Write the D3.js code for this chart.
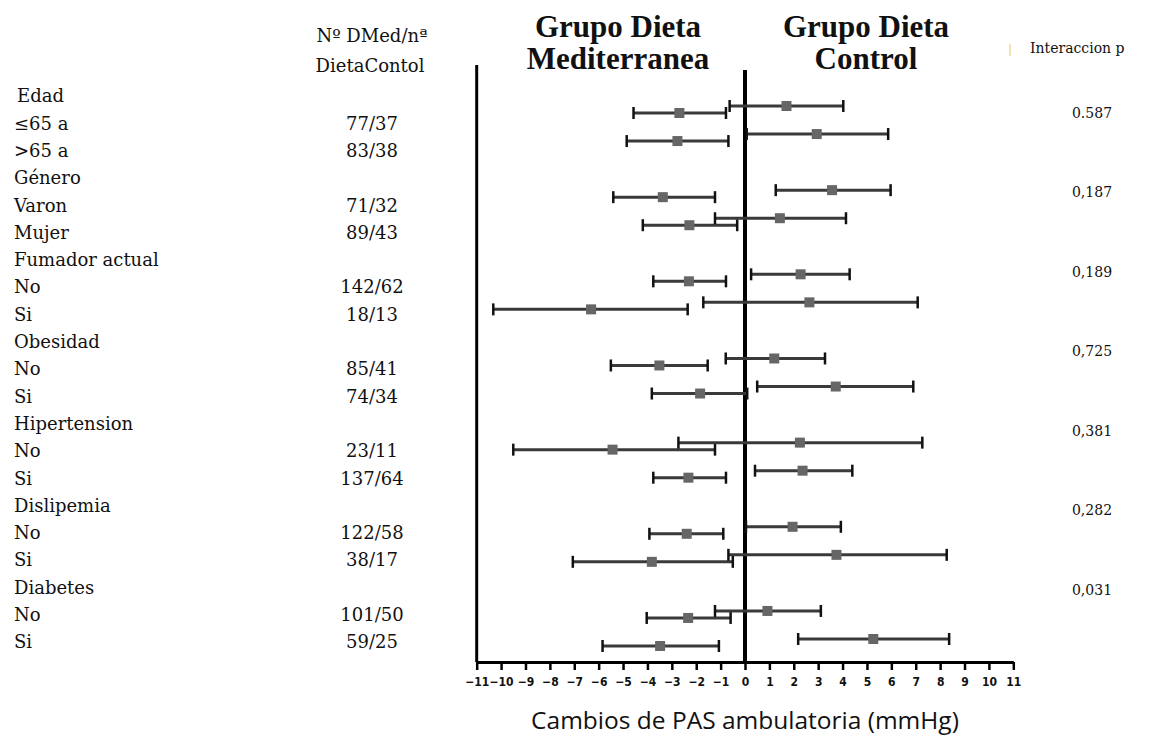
<!DOCTYPE html>
<html>
<head>
<meta charset="utf-8">
<script src="https://cdn.jsdelivr.net/npm/d3@7"></script>
<style>
  body { margin: 0; background: #fff; }
  text { fill: #111; }
  .lbl { font-family: "DejaVu Serif", serif; font-size: 18px; }
  .cnt { font-family: "DejaVu Serif", serif; font-size: 18px; }
  .ttl { font-family: "Liberation Serif", serif; font-weight: bold; font-size: 31px; }
  .pv { font-family: "DejaVu Serif", serif; font-size: 14px; }
  .tick text { font-family: "DejaVu Sans Condensed", "DejaVu Sans", sans-serif; font-size: 12px; font-weight: bold; }
</style>
</head>
<body>
<svg width="1157" height="737"></svg>
<script>
// rows of the table (headers have no counts)
var rowLabels = ["Edad", "\u226465 a", ">65 a", "G\u00e9nero", "Varon", "Mujer",
  "Fumador actual", "No", "Si", "Obesidad", "No", "Si", "Hipertension", "No", "Si",
  "Dislipemia", "No", "Si", "Diabetes", "No", "Si"];
var rowCounts = ["", "77/37", "83/38", "", "71/32", "89/43", "", "142/62", "18/13", "",
  "85/41", "74/34", "", "23/11", "137/64", "", "122/58", "38/17", "", "101/50", "59/25"];

// Grupo Dieta Mediterranea: estimate and 95% CI
var medEst = [-2.69, -2.77, -3.37, -2.28, -2.30, -6.31, -3.51, -1.84, -5.43, -2.32, -2.39, -3.82, -2.33, -3.48];
var medLo  = [-4.57, -4.85, -5.40, -4.19, -3.76, -10.32, -5.50, -3.82, -9.50, -3.76, -3.92, -7.06, -4.03, -5.84];
var medHi  = [-0.78, -0.68, -1.23, -0.32, -0.78, -2.35, -1.53, 0.09, -1.23, -0.78, -0.89, -0.50, -0.59, -1.07];

// Grupo Dieta Control
var ctlEst = [1.70, 2.94, 3.57, 1.43, 2.28, 2.64, 1.20, 3.72, 2.25, 2.36, 1.95, 3.75, 0.92, 5.26];
var ctlLo  = [-0.63, 0.07, 1.26, -1.23, 0.25, -1.71, -0.79, 0.50, -2.73, 0.41, 0.04, -0.68, -1.23, 2.18];
var ctlHi  = [4.03, 5.87, 5.97, 4.14, 4.29, 7.08, 3.28, 6.90, 7.27, 4.40, 3.93, 8.27, 3.11, 8.37];

var pValues = ["0.587", "0,187", "0,189", "0,725", "0,381", "0,282", "0,031"];
var xTicks = d3.range(-11, 12);

var svg = d3.select("svg");

var x = d3.scaleLinear().domain([-11, 11]).range([476.7, 1013.3]);
// bar rows and table rows
var yBar = d3.scaleLinear().domain([1, 20]).range([113, 646]);
var yRow = d3.scaleLinear().domain([0, 20]).range([96, 642]);
var yP = d3.scalePoint().domain(pValues).range([113, 590]);

var axisY = 662;

// table text
svg.append("g").selectAll("text")
    .data(rowLabels)
  .enter().append("text")
    .attr("class", "lbl")
    .attr("x", function(d, i) { return i == 0 ? 17 : 14; })
    .attr("y", function(d, i) { return yRow(i); })
    .attr("dy", "0.35em")
    .text(function(d) { return d; });

svg.append("g").selectAll("text")
    .data(rowCounts)
  .enter().append("text")
    .attr("class", "cnt")
    .attr("x", 372)
    .attr("y", function(d, i) { return yRow(i); })
    .attr("dy", "0.35em")
    .attr("text-anchor", "middle")
    .text(function(d) { return d; });

svg.append("text").attr("class", "cnt").attr("x", 372).attr("y", 42)
    .attr("text-anchor", "middle").text("N\u00ba DMed/n\u00aa");
svg.append("text").attr("class", "cnt").attr("x", 370).attr("y", 72)
    .attr("text-anchor", "middle").text("DietaContol");

// group titles
[["Grupo Dieta", "Mediterranea", 618], ["Grupo Dieta", "Control", 866]].forEach(function(t) {
  svg.append("text").attr("class", "ttl").attr("x", t[2]).attr("y", 37)
      .attr("text-anchor", "middle").text(t[0]);
  svg.append("text").attr("class", "ttl").attr("x", t[2]).attr("y", 69)
      .attr("text-anchor", "middle").text(t[1]);
});

// interaction p
svg.append("line").attr("x1", 1010).attr("x2", 1010).attr("y1", 44).attr("y2", 56)
    .attr("stroke", "#f3e3b0").attr("stroke-width", 2);
svg.append("text").attr("class", "pv").attr("x", 1030).attr("y", 53)
    .text("Interaccion p");
svg.append("g").selectAll("text")
    .data(pValues)
  .enter().append("text")
    .attr("class", "pv")
    .attr("x", 1092)
    .attr("y", function(d) { return yP(d); })
    .attr("dy", "0.35em")
    .attr("text-anchor", "middle")
    .text(function(d) { return d; });

// vertical lines
svg.append("line").attr("x1", x(-11)).attr("x2", x(-11)).attr("y1", 65).attr("y2", axisY)
    .attr("stroke", "#000").attr("stroke-width", 3);
svg.append("line").attr("x1", x(0)).attr("x2", x(0)).attr("y1", 70).attr("y2", axisY)
    .attr("stroke", "#000").attr("stroke-width", 4);

// x axis
var xAxis = d3.axisBottom(x).tickValues(xTicks).tickSize(8).tickPadding(7).tickSizeOuter(0);
var gx = svg.append("g")
    .attr("transform", "translate(0," + axisY + ")")
    .call(xAxis);
gx.select(".domain").attr("stroke-width", 3);
gx.selectAll(".tick line").attr("stroke-width", 2.5);

svg.append("text")
    .attr("x", 745).attr("y", 729)
    .attr("text-anchor", "middle")
    .style("font-family", "'Open Sans', sans-serif")
    .style("font-size", "24.5px")
    .text("Cambios de PAS ambulatoria (mmHg)");

// bar rows = rows that have counts
var barRows = [];
rowCounts.forEach(function(c, i) { if (c) barRows.push(i); });

function series(est, lo, hi, off) {
  return est.map(function(e, k) {
    return {est: e, lo: lo[k], hi: hi[k], y: yBar(barRows[k]) + off};
  });
}
var groups = [series(medEst, medLo, medHi, 0), series(ctlEst, ctlLo, ctlHi, -7)];

groups.forEach(function(data) {
  var g = svg.append("g");
  g.selectAll(".ci").data(data).enter().append("line")
      .attr("x1", function(d) { return x(d.lo); })
      .attr("x2", function(d) { return x(d.hi); })
      .attr("y1", function(d) { return d.y; })
      .attr("y2", function(d) { return d.y; })
      .attr("stroke", "#3a3a3a").attr("stroke-width", 3);
  ["lo", "hi"].forEach(function(k) {
    g.selectAll(".cap" + k).data(data).enter().append("line")
        .attr("x1", function(d) { return x(d[k]); })
        .attr("x2", function(d) { return x(d[k]); })
        .attr("y1", function(d) { return d.y - 6; })
        .attr("y2", function(d) { return d.y + 6; })
        .attr("stroke", "#111").attr("stroke-width", 2.5);
  });
  g.selectAll("rect").data(data).enter().append("rect")
      .attr("x", function(d) { return x(d.est) - 5; })
      .attr("y", function(d) { return d.y - 5; })
      .attr("width", 10).attr("height", 10)
      .attr("fill", "#666");
});
</script>
</body>
</html>
